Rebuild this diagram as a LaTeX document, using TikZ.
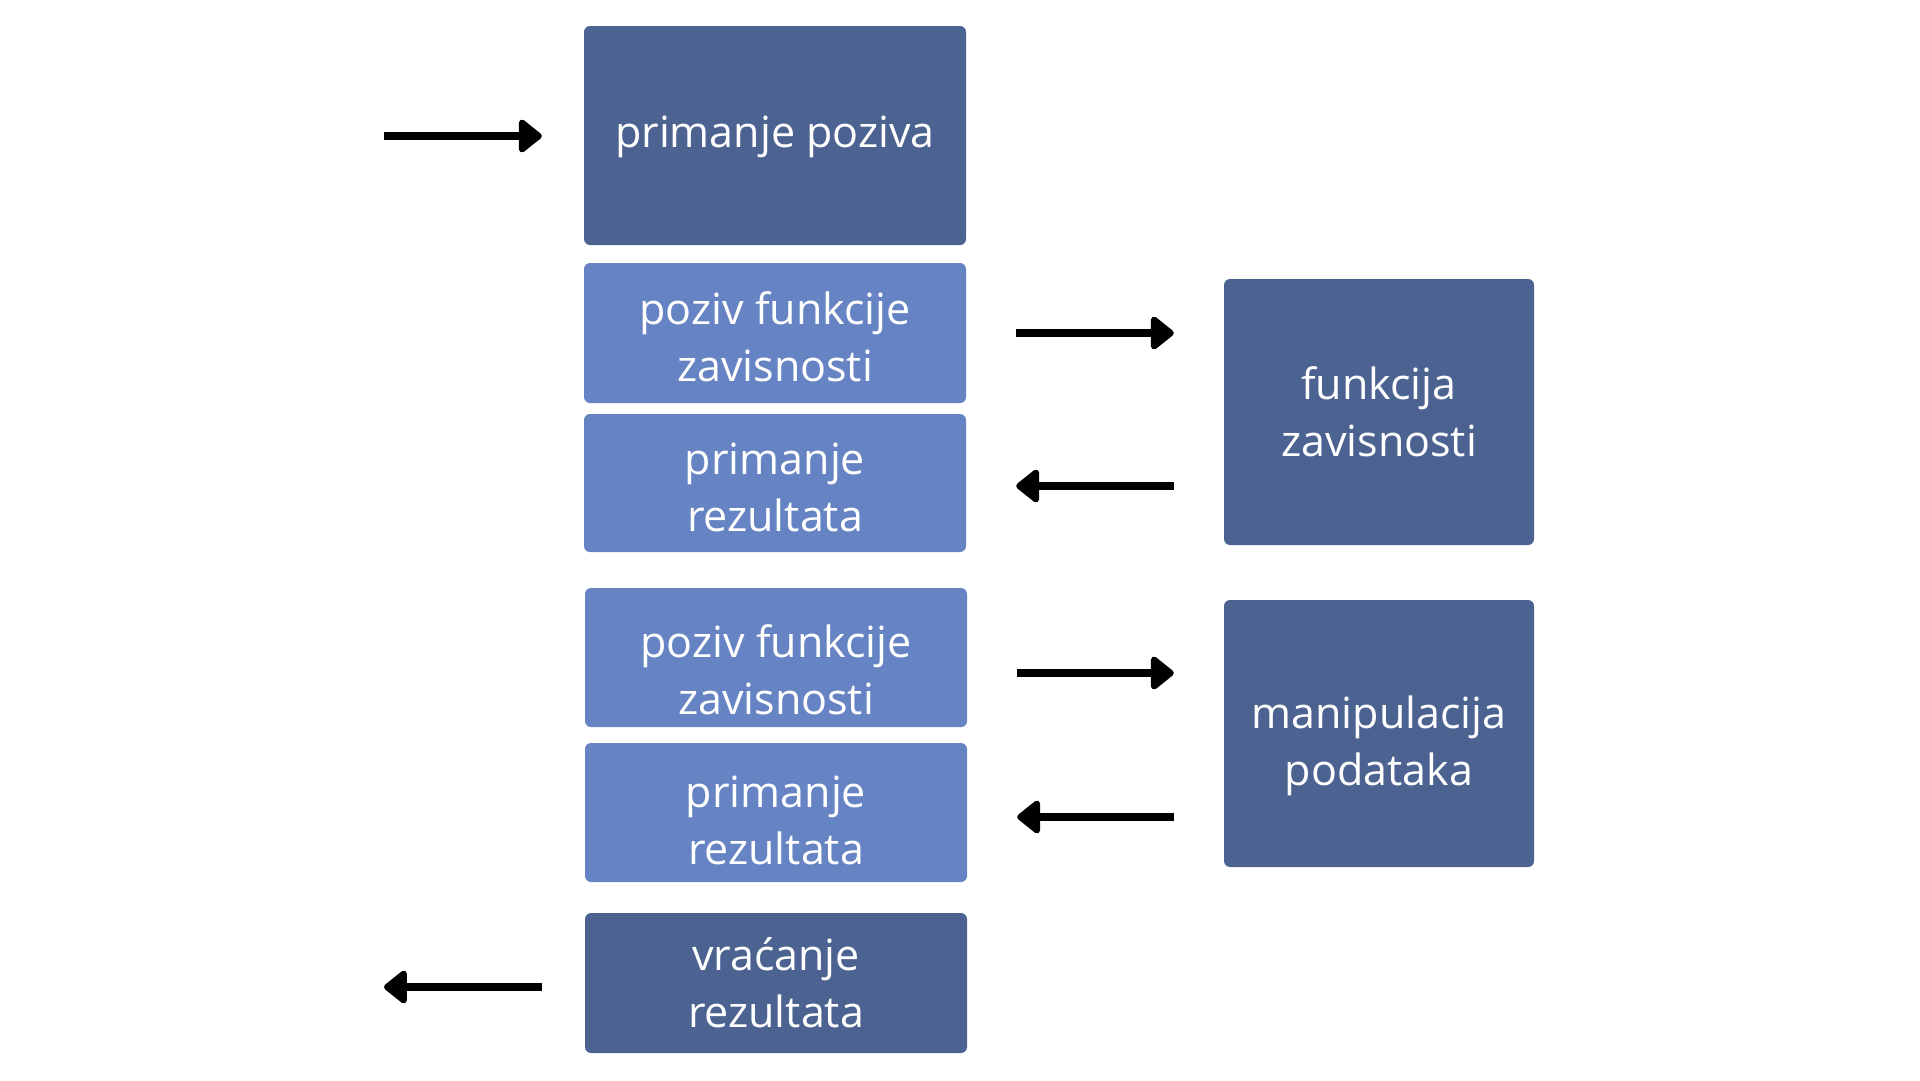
\documentclass[tikz,border=0pt]{standalone}
\usepackage{fontspec}
\setmainfont{Open Sans}
\usetikzlibrary{arrows.meta}
\definecolor{boxdark}{RGB}{76,99,145}
\definecolor{boxlight}{RGB}{102,131,195}
\tikzset{
  x=1pt, y=-1pt,
  blk/.style={rounded corners=6pt, inner sep=0pt},
  darkblk/.style={blk, fill=boxdark},
  lightblk/.style={blk, fill=boxlight},
  txt/.style={text=white, align=center, inner sep=0pt,
    font=\fontsize{43}{57}\selectfont},
  arr/.style={line width=8pt, -{Triangle[round, length=25pt, width=38pt]}, line join=round}
}
\begin{document}
\begin{tikzpicture}
\useasboundingbox (0,0) rectangle (1920,1080);
\fill[white] (0,0) rectangle (1920,1080);
% caller column
\node[darkblk, minimum width=382pt, minimum height=219pt] (A) at (775,135.5) {};
\node[lightblk, minimum width=382pt, minimum height=140pt] (B) at (775,333) {};
\node[lightblk, minimum width=382pt, minimum height=138pt] (C) at (775,483) {};
\node[lightblk, minimum width=382pt, minimum height=139pt] (D) at (776,657.5) {};
\node[lightblk, minimum width=382pt, minimum height=139pt] (E) at (776,812.5) {};
\node[darkblk, minimum width=382pt, minimum height=140pt] (F) at (776,983) {};
% dependencies
\node[darkblk, minimum width=310pt, minimum height=266pt] (G) at (1379,412) {};
\node[darkblk, minimum width=310pt, minimum height=267pt] (H) at (1379,733.5) {};
% box texts
\node[txt] (At) at ([yshift=-1pt]A.center) {primanje poziva};
\node[txt] (Bt) at ([yshift=-4pt]B.center) {poziv funkcije\\zavisnosti};
\node[txt] (Ct) at ([yshift=-4pt]C.center) {primanje\\rezultata};
\node[txt] (Dt) at ([yshift=-12pt]D.center) {poziv funkcije\\zavisnosti};
\node[txt] (Et) at ([yshift=-8pt]E.center) {primanje\\rezultata};
\node[txt] (Ft) at (F.center) {vraćanje\\rezultata};
\node[txt] (Gt) at (G.center) {funkcija\\zavisnosti};
\node[txt] (Ht) at ([yshift=-12pt]H.center) {manipulacija\\podataka};
% free ends
\coordinate (in) at (384,136);
\coordinate (out) at (384,987);
% connectors
\draw[arr, shorten >=42pt] (in) -- (A.west |- in);
\draw[arr, shorten <=50pt, shorten >=50pt] (B.east) -- (B.east -| G.west);
\draw[arr, shorten <=50pt, shorten >=50pt] ([yshift=-3pt]C.east -| G.west) -- ([yshift=-3pt]C.east);
\draw[arr, shorten <=50pt, shorten >=50pt] ([yshift=-15.5pt]D.east) -- ([yshift=-15.5pt]D.east -| H.west);
\draw[arr, shorten <=50pt, shorten >=50pt] ([yshift=-4.5pt]E.east -| H.west) -- ([yshift=-4.5pt]E.east);
\draw[arr, shorten <=43pt] (F.west |- out) -- (out);
\end{tikzpicture}
\end{document}
